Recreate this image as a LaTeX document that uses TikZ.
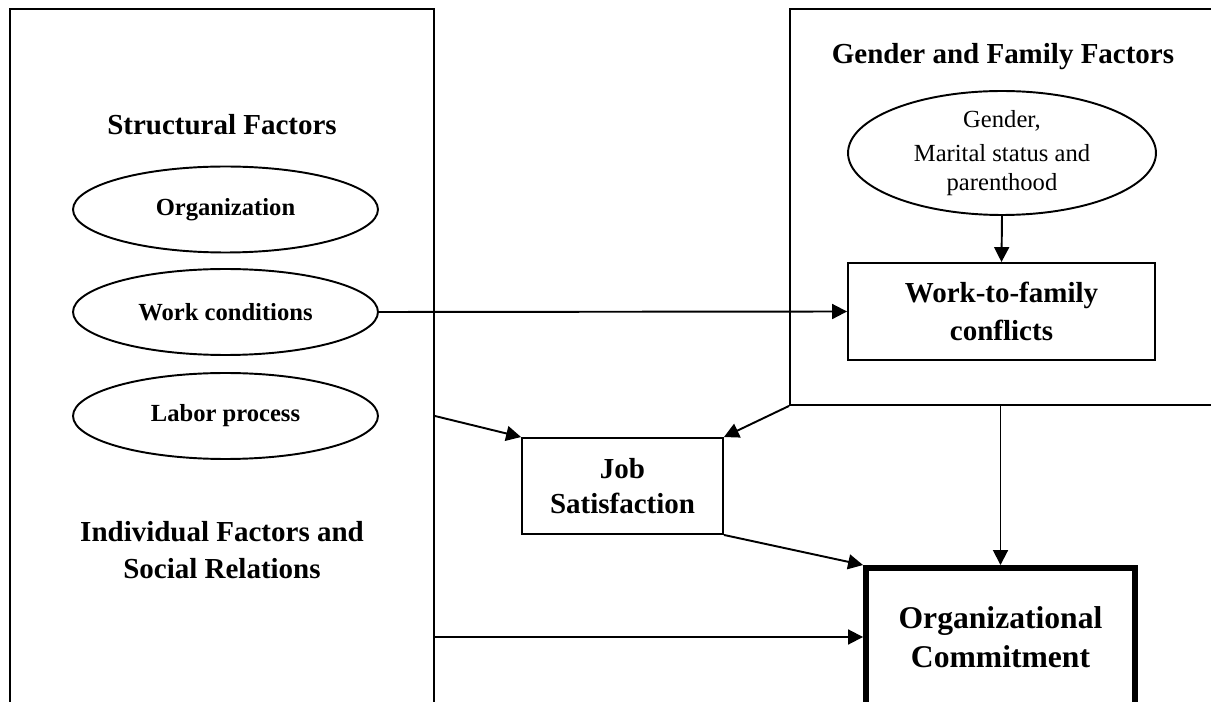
\documentclass[tikz,border=0pt]{standalone}
\usepackage{fontspec}
\setmainfont{Liberation Serif}
\usetikzlibrary{shapes.geometric,arrows.meta}

\begin{document}
\begin{tikzpicture}[x=0.02cm,y=-0.02cm,line width=1.1pt,
	oval/.style={draw,ellipse,inner sep=0pt,minimum width=6.1cm,minimum height=1.72cm,font=\fontsize{14}{16}\selectfont\bfseries},
	frame/.style={draw,rectangle,inner sep=0pt},
	head/.style={align=center,font=\fontsize{16.5}{21.5}\selectfont\bfseries},
	arr/.style={-{Triangle[length=8.5pt,width=8.5pt]}}]
			\useasboundingbox (0,0) rectangle (1211,702);
			\clip (0,0) rectangle (1211,702);
			
			% outer frames
			\node[frame,minimum width=8.48cm,minimum height=14.4cm] (structural) at (222,369) {};
			\node[frame,minimum width=8.8cm,minimum height=7.92cm] (family) at (1010,207) {};
			
			\node[head] (sfhead) at (222,125) {Structural Factors};
			\node[head] (gfhead) at (1003,57) {Gender and Family Factors};
			\node[head] (ifhead) at (222,550) {Individual Factors and\\Social Relations};
			
			\node[oval] (organization) at (225.5,209.5) {Organization};
			\node[oval] (workcond) at (225.5,312) {Work conditions};
			\node[oval] (labor) at (225.5,416) {Labor process};
			
			\node[oval,minimum width=6.16cm,minimum height=2.48cm,align=center,font=\fontsize{14}{16.4}\selectfont] (gender) at (1002,153) {Gender,\\[3.4pt]Marital status and\\parenthood};
			\node[frame,head,minimum width=6.14cm,minimum height=1.94cm] (wtf) at (1001.5,311.5) {Work-to-family\\conflicts};
			\node[frame,align=center,minimum width=4.02cm,minimum height=1.92cm,font=\fontsize{16.5}{19.5}\selectfont\bfseries] (job) at (622.5,486) {Job\\Satisfaction};
			\node[frame,line width=3.4pt,align=center,minimum width=5.38cm,minimum height=2.76cm,font=\fontsize{18}{22}\selectfont\bfseries] (commit) at (1000.5,637) {Organizational\\Commitment};
			
			% paths
			\draw[arr] (workcond.east) -- (wtf.west);
			\draw[arr] (gender.south) -- (wtf.north);
			\draw[arr] (structural.east |- labor) -- (job.north west);
			\draw[arr] (family.south west) -- (job.north east);
			\draw[arr] (job.south east) -- (commit.north west);
			\draw[arr] (structural.east |- commit) -- (commit.west);
			\draw[arr] (commit.north |- family.south) -- (commit.north);
		\end{tikzpicture}
\end{document}
